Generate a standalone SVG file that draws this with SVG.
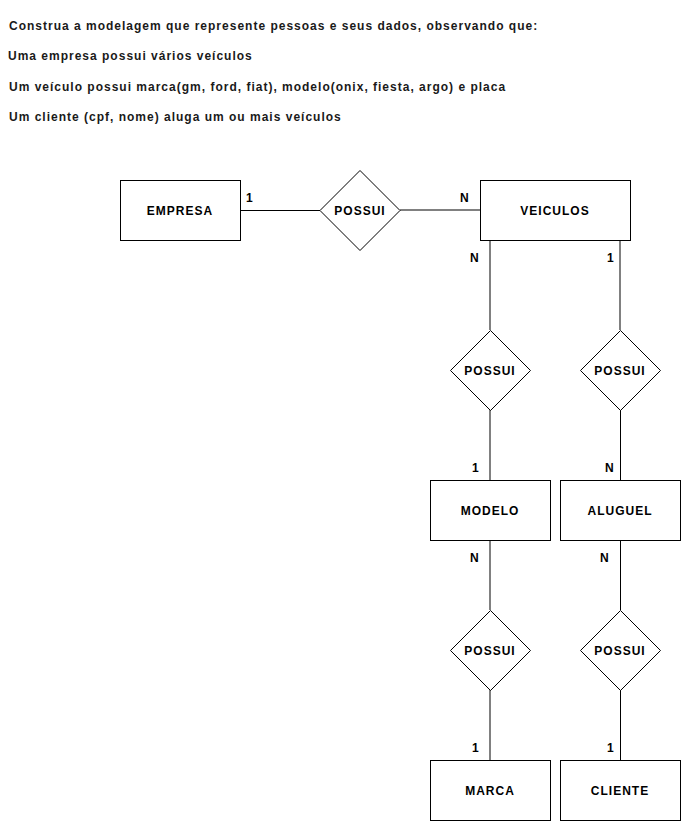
<svg xmlns="http://www.w3.org/2000/svg" width="681" height="821" viewBox="0 0 681 821">
<style>
.hdr{font-family:"Liberation Sans",Arial,sans-serif;font-size:12px;font-weight:bold;fill:#1a1a1a;letter-spacing:1px}
.lbl{font-family:"Liberation Sans",Arial,sans-serif;font-size:12px;font-weight:bold;fill:#000;text-anchor:middle;dominant-baseline:central;letter-spacing:1px}
.card{font-family:"Liberation Sans",Arial,sans-serif;font-size:12px;font-weight:bold;fill:#000}
.shape{fill:#fff;stroke:#000;stroke-width:1}
.blk{stroke:#000;stroke-width:1;fill:none}
.gry{stroke:#808080;stroke-width:2;fill:none}
</style>
<rect width="681" height="821" fill="#fff"/>
<g id="header">
<text class="hdr" x="9" y="30">Construa a modelagem que represente pessoas e seus dados, observando que:</text>
<text class="hdr" x="8" y="60">Uma empresa possui vários veículos</text>
<text class="hdr" x="9" y="91">Um veículo possui marca(gm, ford, fiat), modelo(onix, fiesta, argo) e placa</text>
<text class="hdr" x="9" y="121">Um cliente (cpf, nome) aluga um ou mais veículos</text>
</g>
<g id="connectors">
<line class="blk" x1="240" y1="210.5" x2="320" y2="210.5"/>
<line class="gry" x1="400" y1="210" x2="480" y2="210"/>
<line class="gry" x1="490" y1="240" x2="490" y2="330"/>
<line class="gry" x1="490" y1="410" x2="490" y2="480"/>
<line class="gry" x1="620" y1="240" x2="620" y2="330"/>
<line class="blk" x1="620.5" y1="410" x2="620.5" y2="480"/>
<line class="gry" x1="490" y1="540" x2="490" y2="610"/>
<line class="gry" x1="490" y1="690" x2="490" y2="760"/>
<line class="blk" x1="620.5" y1="540" x2="620.5" y2="610"/>
<line class="blk" x1="620.5" y1="690" x2="620.5" y2="760"/>
<text class="card" x="246" y="202">1</text>
<text class="card" x="460" y="202">N</text>
<text class="card" x="470" y="262">N</text>
<text class="card" x="607" y="262">1</text>
<text class="card" x="472" y="472">1</text>
<text class="card" x="605" y="472">N</text>
<text class="card" x="470" y="562">N</text>
<text class="card" x="600" y="562">N</text>
<text class="card" x="472" y="752">1</text>
<text class="card" x="607" y="752">1</text>
</g>
<g id="empresa"><rect class="shape" x="120.5" y="180.5" width="120" height="60"/><text class="lbl" x="180" y="211">EMPRESA</text></g>
<g id="possui1"><polygon class="shape" points="360,170.5 400,210.5 360,250.5 320,210.5"/><text class="lbl" x="360" y="211">POSSUI</text></g>
<g id="veiculos"><rect class="shape" x="480.5" y="180.5" width="150" height="60"/><text class="lbl" x="555" y="211">VEICULOS</text></g>
<g id="possui2"><polygon class="shape" points="490.5,330.5 530.5,370.5 490.5,410.5 450.5,370.5"/><text class="lbl" x="490" y="371">POSSUI</text></g>
<g id="possui3"><polygon class="shape" points="620.5,330.5 660.5,370.5 620.5,410.5 580.5,370.5"/><text class="lbl" x="620" y="371">POSSUI</text></g>
<g id="modelo"><rect class="shape" x="430.5" y="480.5" width="120" height="60"/><text class="lbl" x="490" y="511">MODELO</text></g>
<g id="aluguel"><rect class="shape" x="560.5" y="480.5" width="120" height="60"/><text class="lbl" x="620" y="511">ALUGUEL</text></g>
<g id="possui4"><polygon class="shape" points="490.5,610.5 530.5,650.5 490.5,690.5 450.5,650.5"/><text class="lbl" x="490" y="651">POSSUI</text></g>
<g id="possui5"><polygon class="shape" points="620.5,610.5 660.5,650.5 620.5,690.5 580.5,650.5"/><text class="lbl" x="620" y="651">POSSUI</text></g>
<g id="marca"><rect class="shape" x="430.5" y="760.5" width="120" height="60"/><text class="lbl" x="490" y="791">MARCA</text></g>
<g id="cliente"><rect class="shape" x="560.5" y="760.5" width="120" height="60"/><text class="lbl" x="620" y="791">CLIENTE</text></g>
</svg>
